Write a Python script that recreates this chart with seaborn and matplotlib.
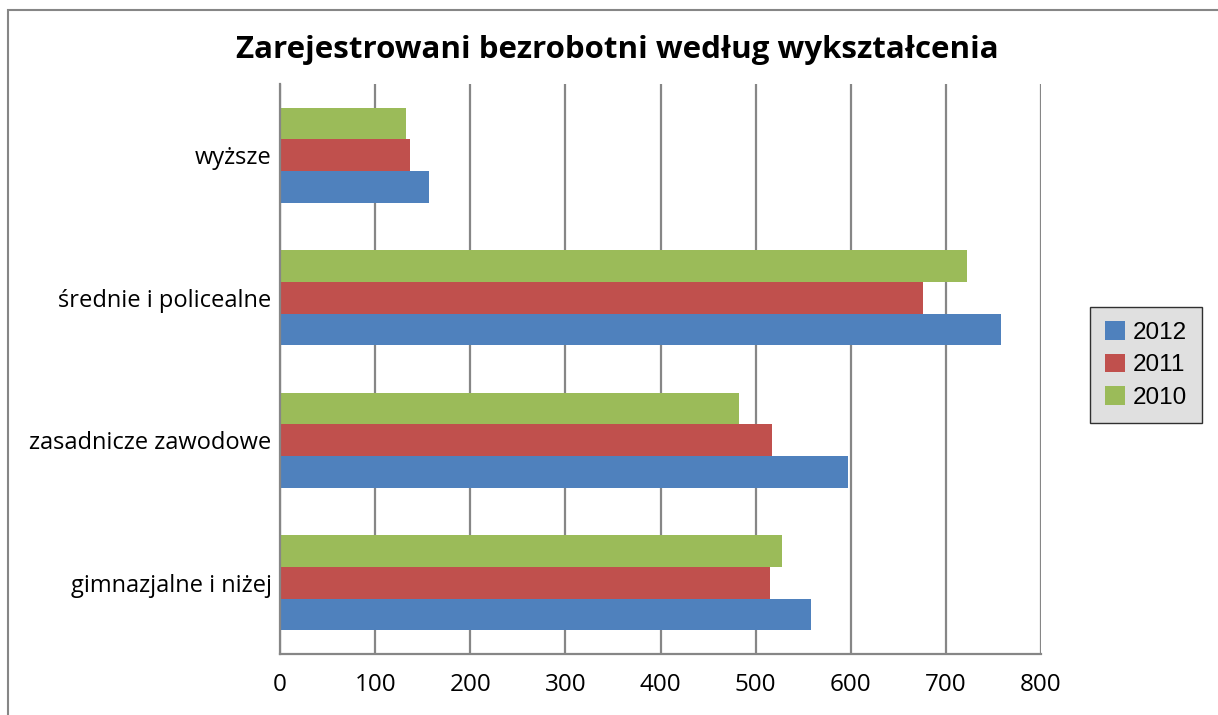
import matplotlib
matplotlib.use("Agg")
import matplotlib.pyplot as plt
import seaborn as sns
import pandas as pd
from matplotlib.patches import Rectangle, Patch

categories = ["wyższe", "średnie i policealne", "zasadnicze zawodowe", "gimnazjalne i niżej"]
years = ["2010", "2011", "2012"]
values_2010 = [132, 722, 482, 528]
values_2011 = [137, 676, 517, 515]
values_2012 = [157, 758, 597, 558]
xticks = [0, 100, 200, 300, 400, 500, 600, 700, 800]
colors = {"2012": "#4F81BD", "2011": "#C0504D", "2010": "#9BBB59"}

rows = []
for yr, vals in zip(years, [values_2010, values_2011, values_2012]):
    for c, v in zip(categories, vals):
        rows.append({"kategoria": c, "rok": yr, "wartosc": v})
df = pd.DataFrame(rows)

sns.set_style("white")
plt.rcParams["font.family"] = ["Open Sans", "DejaVu Sans"]
plt.rcParams["text.color"] = "black"
plt.rcParams["xtick.color"] = "black"
plt.rcParams["ytick.color"] = "black"

fig = plt.figure(figsize=(12.18, 7.15), dpi=100)
ax = fig.add_axes([280 / 1218, (715 - 654) / 715, 761 / 1218, 570 / 715])

sns.barplot(data=df, y="kategoria", x="wartosc", hue="rok", order=categories,
            hue_order=years, palette=colors, orient="h", width=0.667,
            saturation=1, ax=ax, legend=False, edgecolor="none", linewidth=0)

ax.set_xlim(0, 800)
ax.set_xticks(xticks)
ax.set_xticklabels([str(t) for t in xticks], fontsize=17.5)
ax.tick_params(axis="y", labelsize=17, length=0, pad=6, labelcolor="black")
ax.tick_params(axis="x", length=0, pad=14, labelcolor="black")
ax.set_xlabel("")
ax.set_ylabel("")
ax.xaxis.grid(True, color="#868686", linewidth=1.6)
ax.set_axisbelow(True)
for s in ["top", "right"]:
    ax.spines[s].set_visible(False)
for s in ["left", "bottom"]:
    ax.spines[s].set_color("#868686")
    ax.spines[s].set_linewidth(1.6)

fig.suptitle("Zarejestrowani bezrobotni według wykształcenia", fontsize=22.5,
             fontweight="bold", color="black", x=617 / 1218, y=1 - 50 / 715, va="center")

handles = [Patch(facecolor=colors[y], edgecolor="none", label=y) for y in ["2012", "2011", "2010"]]
leg = fig.legend(handles=handles, loc="center", bbox_to_anchor=(1146 / 1218, 1 - 365 / 715),
                 frameon=True, fancybox=False, handlelength=0.82,
                 handleheight=0.82, handletextpad=0.35, labelspacing=0.38,
                 borderpad=0.6, borderaxespad=0,
                 prop={"family": "Liberation Sans", "size": 17.5})
leg.get_frame().set_facecolor("#D9D9D9")
leg.get_frame().set_edgecolor("#000000")
leg.get_frame().set_linewidth(1.0)
for t in leg.get_texts():
    t.set_color("black")

fig.patches.append(Rectangle((8 / 1218, -0.05), 1.2, 1 - 10 / 715 + 0.05,
                             transform=fig.transFigure, fill=False,
                             edgecolor="#868686", linewidth=1.5, clip_on=False))

fig.savefig("out.png", dpi=100)
